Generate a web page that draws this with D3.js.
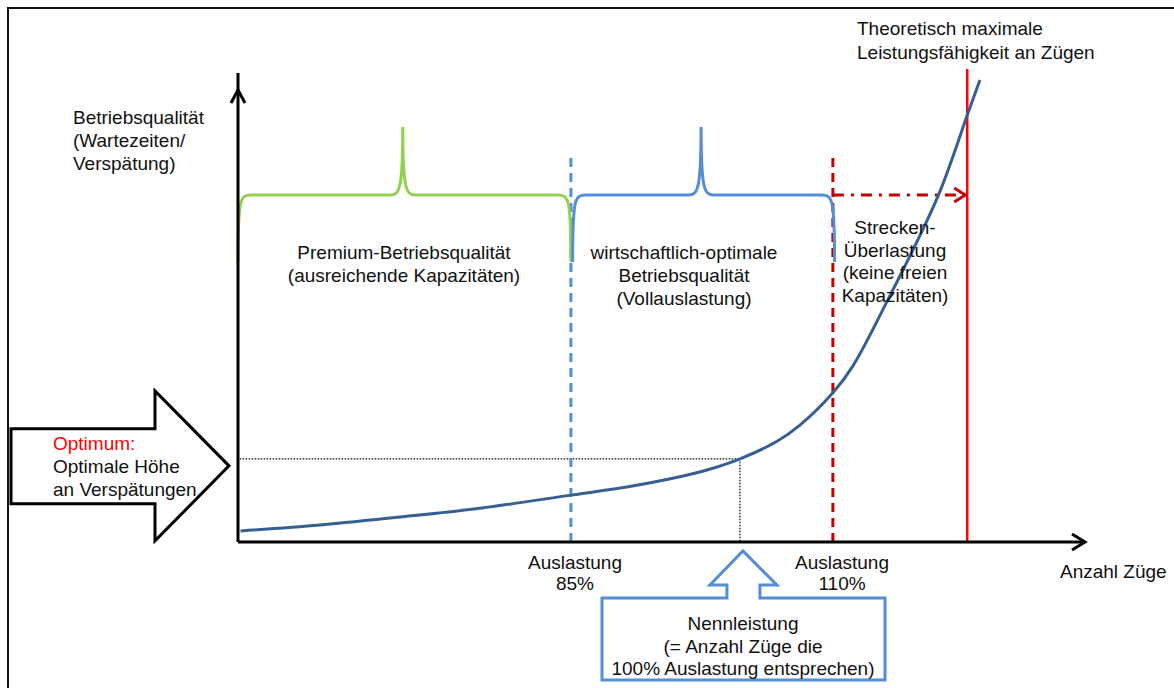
<!DOCTYPE html>
<html>
<head>
<meta charset="utf-8">
<script src="https://cdn.jsdelivr.net/npm/d3@7"></script>
<style>
  html, body { margin: 0; padding: 0; background: #fff; }
  svg { display: block; font-family: "Liberation Sans", Arial, sans-serif; }
</style>
</head>
<body>
<svg id="chart" width="1174" height="688"></svg>
<script>
// ---- Data (abstract units: x = Anzahl Züge 0..100, y = Verspätung 0..100) ----
const curveX = [0.3, 9.7, 19.2, 28.6, 39.6, 46.0, 52.0, 55.9, 59.4, 63.8, 66.5, 70.4, 72.7, 76.9, 82.8, 86.4, 87.8];
const curveY = [2.4, 3.7, 5.4, 7.3, 10.2, 11.9, 14.0, 15.8, 18.0, 21.8, 25.3, 32.3, 37.9, 52.4, 74.7, 92.9, 100.0];

const markX = { load85: 39.4, nenn: 59.4, load110: 70.4, max: 86.3 };
const optimumY = 18.0;
const braceLevels = { base: 60.6, top: 75.1, tip: 89.8 };
const markerTop = 83.1;
const maxLineTop = 102.4;
const overloadArrowY = 75.1;

const braceGreen = { from: 0, to: 39.4, mid: 19.5 };
const braceBlue  = { from: 39.6, to: 70.6, mid: 54.8 };

const yAxisLabel = ["Betriebsqualität", "(Wartezeiten/", "Verspätung)"];
const xAxisLabel = "Anzahl Züge";
const premiumLabel = ["Premium-Betriebsqualität", "(ausreichende Kapazitäten)"];
const optimalLabel = ["wirtschaftlich-optimale", "Betriebsqualität", "(Vollauslastung)"];
const overloadLabel = ["Strecken-", "Überlastung", "(keine freien", "Kapazitäten)"];
const maxLabel = ["Theoretisch maximale", "Leistungsfähigkeit an Zügen"];
const load85Label = ["Auslastung", "85%"];
const load110Label = ["Auslastung", "110%"];
const optimumLabel = ["Optimale Höhe", "an Verspätungen"];
const nennLabel = ["Nennleistung", "(= Anzahl Züge die", "100% Auslastung entsprechen)"];

// ---- Setup ----
const svg = d3.select("#chart");
const x = d3.scaleLinear().domain([0, 100]).range([238, 1083]);
const y = d3.scaleLinear().domain([0, 100]).range([542, 80]);
const line = d3.line().x(d => x(d[0])).y(d => y(d[1]));

const blue = "#558ED5", green = "#92D050", darkRed = "#C00000", red = "#FF0000", curveCol = "#376092";

// outer frame
svg.append("rect").attr("x", 8).attr("y", 8).attr("width", 1300).attr("height", 800)
  .attr("fill", "none").attr("stroke", "#111").attr("stroke-width", 2);

// dotted guides
svg.append("path").attr("d", line([[0.2, optimumY], [markX.nenn, optimumY]]))
  .attr("stroke", "#000").attr("stroke-width", 1.2).attr("stroke-dasharray", "1.5,1.5").attr("fill", "none");
svg.append("path").attr("d", line([[markX.nenn, optimumY], [markX.nenn, 0]]))
  .attr("stroke", "#000").attr("stroke-width", 1.2).attr("stroke-dasharray", "1.5,1.5").attr("fill", "none");

// vertical markers
svg.append("path").attr("d", line([[markX.load85, markerTop], [markX.load85, 0]]))
  .attr("stroke", blue).attr("stroke-width", 3).attr("stroke-dasharray", "9,6").attr("fill", "none");
svg.append("path").attr("d", line([[markX.load110, markerTop], [markX.load110, 0]]))
  .attr("stroke", darkRed).attr("stroke-width", 3).attr("stroke-dasharray", "9,6").attr("fill", "none");
svg.append("path").attr("d", line([[markX.max, maxLineTop], [markX.max, 0]]))
  .attr("stroke", red).attr("stroke-width", 2.5).attr("fill", "none");

// overload dash-dot arrow
svg.append("path").attr("d", line([[markX.load110, overloadArrowY], [markX.max - 0.3, overloadArrowY]]))
  .attr("stroke", darkRed).attr("stroke-width", 3).attr("stroke-dasharray", "11,7,3,7").attr("fill", "none");
{
  const tx = x(markX.max) - 2, ty = y(overloadArrowY);
  svg.append("path").attr("d", `M${tx - 11},${ty - 7} L${tx},${ty} L${tx - 11},${ty + 7}`)
    .attr("stroke", darkRed).attr("stroke-width", 3).attr("fill", "none");
}

// braces
function brace(b, color) {
  const x0 = x(b.from), x1 = x(b.to), xm = x(b.mid);
  const yb = y(braceLevels.base), yt = y(braceLevels.top), yp = y(braceLevels.tip);
  const d = `M${x0},${yb} C${x0},${yt + 4} ${x0 + 2},${yt} ${x0 + 13},${yt} ` +
    `L${xm - 12},${yt} C${xm - 3},${yt} ${xm},${yt - 8} ${xm},${yp} ` +
    `C${xm},${yt - 8} ${xm + 3},${yt} ${xm + 12},${yt} ` +
    `L${x1 - 13},${yt} C${x1 - 2},${yt} ${x1},${yt + 4} ${x1},${yb}`;
  svg.append("path").attr("d", d).attr("stroke", color).attr("stroke-width", 3).attr("fill", "none");
}
brace(braceGreen, green);
brace(braceBlue, blue);

// axes
svg.append("path").attr("d", line([[0, 0], [0, 101.5]])).attr("stroke", "#000").attr("stroke-width", 3).attr("fill", "none");
svg.append("path").attr("d", line([[0, 0], [100.2, 0]])).attr("stroke", "#000").attr("stroke-width", 3).attr("fill", "none");
{
  const ax = x(0), ay = y(0);
  svg.append("path").attr("d", `M${ax - 7},${103} L${ax},${90} L${ax + 7},${103}`)
    .attr("stroke", "#000").attr("stroke-width", 3).attr("fill", "none");
  svg.append("path").attr("d", `M${1072},${ay - 8} L${1085},${ay} L${1072},${ay + 8}`)
    .attr("stroke", "#000").attr("stroke-width", 3).attr("fill", "none");
}

// curve
svg.append("path").datum(curveX.map((v, i) => [v, curveY[i]]))
  .attr("d", d3.line().x(d => x(d[0])).y(d => y(d[1])).curve(d3.curveCatmullRom.alpha(0.5)))
  .attr("stroke", curveCol).attr("stroke-width", 3).attr("fill", "none");

// left big arrow (Optimum)
{
  const ty = y(optimumY) + 7;
  const d = `M11,${ty - 37} L155,${ty - 37} L155,${ty - 75} L229,${ty} L155,${ty + 75} L155,${ty + 38} L11,${ty + 38} Z`;
  svg.append("path").attr("d", d).attr("fill", "#fff").attr("stroke", "#000").attr("stroke-width", 3).attr("stroke-linejoin", "miter");
}

// callout for Nennleistung
{
  const cx = x(markX.nenn) + 3;
  const d = `M${cx - 16},598 L${cx - 16},585 L${cx - 33},585 L${cx},551 L${cx + 34},585 L${cx + 17},585 L${cx + 17},598 ` +
    `L885,598 L885,680 L602,680 L602,598 Z`;
  svg.append("path").attr("d", d).attr("fill", "#fff").attr("stroke", blue).attr("stroke-width", 3);
}

// text helper
function lines(arr, xPos, yFirst, anchor, step = 23, color = "#111") {
  const t = svg.append("text").attr("font-size", 19).attr("fill", color).attr("text-anchor", anchor);
  arr.forEach((s, i) => t.append("tspan").attr("x", xPos).attr("y", yFirst + i * step).text(s));
  return t;
}
lines(yAxisLabel, 73, 124, "start");
lines([xAxisLabel], 1060, 578, "start");
lines(premiumLabel, 404, 259, "middle");
lines(optimalLabel, 684, 259, "middle");
lines(overloadLabel, 895, 234, "middle", 22.7);
lines(maxLabel, 857, 35, "start", 24);
lines(load85Label, 575, 569, "middle", 21);
lines(load110Label, 842, 569, "middle", 21);
lines(["Optimum:"], 53, 450, "start", 23, "#FF0000");
lines(optimumLabel, 53, 473, "start", 22.5);
lines(nennLabel, 743, 630, "middle", 22.5);
</script>
</body>
</html>
